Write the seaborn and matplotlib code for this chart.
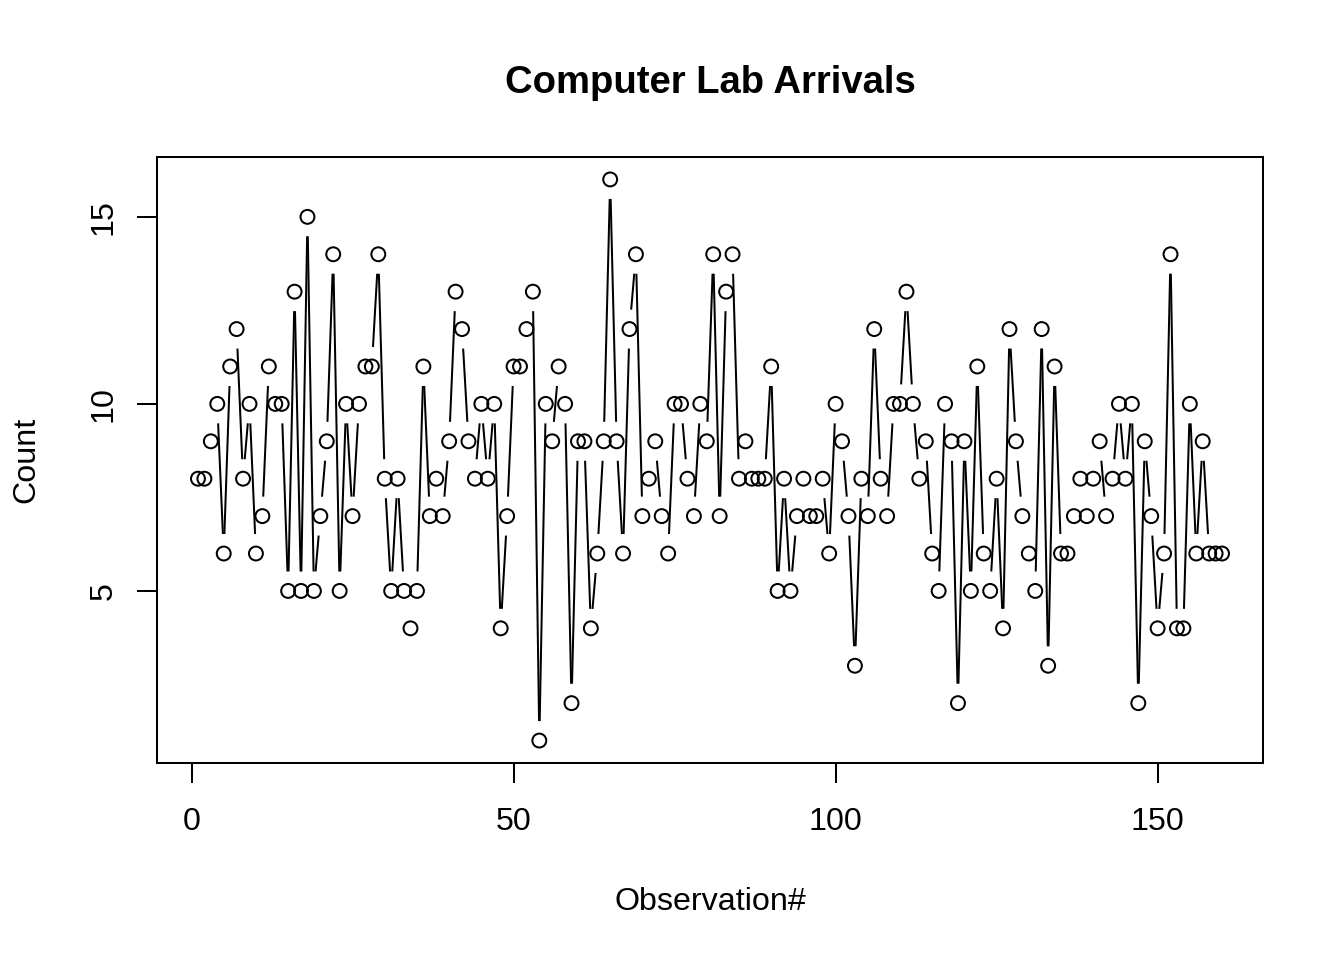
import numpy as np
import pandas as pd
import matplotlib
matplotlib.use("Agg")
import matplotlib.pyplot as plt
from matplotlib.collections import LineCollection
import seaborn as sns

# ---- data ----
counts = [8, 8, 9, 10, 6, 11, 12, 8, 10, 6,
          7, 11, 10, 10, 5, 13, 5, 15, 5, 7,
          9, 14, 5, 10, 7, 10, 11, 11, 14, 8,
          5, 8, 5, 4, 5, 11, 7, 8, 7, 9,
          13, 12, 9, 8, 10, 8, 10, 4, 7, 11,
          11, 12, 13, 1, 10, 9, 11, 10, 2, 9,
          9, 4, 6, 9, 16, 9, 6, 12, 14, 7,
          8, 9, 7, 6, 10, 10, 8, 7, 10, 9,
          14, 7, 13, 14, 8, 9, 8, 8, 8, 11,
          5, 8, 5, 7, 8, 7, 7, 8, 6, 10,
          9, 7, 3, 8, 7, 12, 8, 7, 10, 10,
          13, 10, 8, 9, 6, 5, 10, 9, 2, 9,
          5, 11, 6, 5, 8, 4, 12, 9, 7, 6,
          5, 12, 3, 11, 6, 6, 7, 8, 7, 8,
          9, 7, 8, 10, 8, 10, 2, 9, 7, 4,
          6, 14, 4, 4, 10, 6, 9, 6, 6, 6]
observation = list(range(1, len(counts) + 1))
x_ticks = [0, 50, 100, 150]
y_ticks = [5, 10, 15]
title = "Computer Lab Arrivals"
x_label = "Observation#"
y_label = "Count"

df = pd.DataFrame({"obs": observation, "count": counts})

sns.set_style("white")
plt.rcParams["font.family"] = ["Liberation Sans", "DejaVu Sans"]

fig = plt.figure(figsize=(13.44, 9.6), dpi=100)
ax = fig.add_axes([157 / 1344, 197 / 960, 1106 / 1344, 606 / 960])

lw = 1.45
n = len(counts)
xr = n - 1
yr = max(counts) - min(counts)
ax.set_xlim(1 - 0.04 * xr, n + 0.04 * xr)
ax.set_ylim(min(counts) - 0.04 * yr, max(counts) + 0.04 * yr)

# connecting segments with gaps at the points (like R type="b")
gap_px = 19.5
xy = np.column_stack([df["obs"].to_numpy(float), df["count"].to_numpy(float)])
disp = ax.transData.transform(xy)
segs = []
for i in range(n - 1):
    d = disp[i + 1] - disp[i]
    L = np.hypot(d[0], d[1])
    if L <= 0:
        continue
    f = gap_px / L
    if f < 0.5:
        p0 = xy[i] + f * (xy[i + 1] - xy[i])
        p1 = xy[i + 1] - f * (xy[i + 1] - xy[i])
        segs.append([p0, p1])
ax.add_collection(LineCollection(segs, colors="black", linewidths=lw,
                                 capstyle="butt", zorder=1))

# open circles
sns.scatterplot(data=df, x="obs", y="count", ax=ax, s=10 ** 2,
                facecolor="none", edgecolor="black", linewidth=lw, zorder=3)

ax.set_xlim(1 - 0.04 * xr, n + 0.04 * xr)
ax.set_ylim(min(counts) - 0.04 * yr, max(counts) + 0.04 * yr)

ax.set_xticks(x_ticks)
ax.set_yticks(y_ticks)
ax.set_xticklabels([str(v) for v in x_ticks])
ax.set_yticklabels([str(v) for v in y_ticks], rotation=90, va="center")

ax.tick_params(axis="both", which="major", direction="out", length=14.4,
               width=lw, color="black", labelsize=23.2, labelcolor="black",
               bottom=True, left=True)
ax.tick_params(axis="x", pad=17.5)
ax.tick_params(axis="y", pad=13.0)

for sp in ax.spines.values():
    sp.set_visible(True)
    sp.set_color("black")
    sp.set_linewidth(lw)

ax.set_xlabel(x_label, fontsize=23.2, labelpad=36, color="black")
ax.set_ylabel(y_label, fontsize=23.2, labelpad=34.5, color="black")
ax.set_title(title, fontsize=27.5, fontweight="bold", pad=46, color="black")

fig.savefig("out.png", dpi=100)
